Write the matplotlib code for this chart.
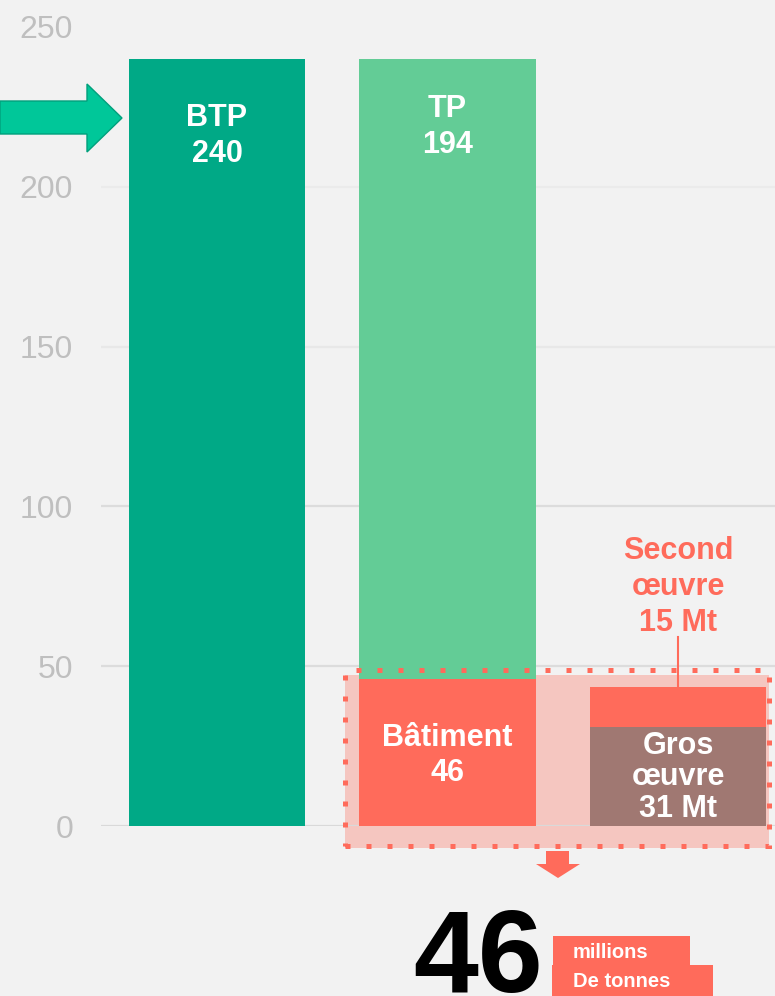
import matplotlib
matplotlib.use("Agg")
import matplotlib.pyplot as plt
from matplotlib.patches import Rectangle, Polygon

plt.rcParams['font.family'] = ['Liberation Sans', 'DejaVu Sans']

# ---------------- data ----------------
categories = ["BTP", "TP + Bâtiment", "Bâtiment"]
btp_total = 240
batiment = 46
tp = 194
gros_oeuvre = 31
second_oeuvre = 12.5          # height as drawn in the picture (label says 15 Mt)
second_label = "Second\nœuvre\n15 Mt"
gros_label = "Gros\nœuvre\n31 Mt"
yticks = [0, 50, 100, 150, 200, 250]
total_batiment = 46

# ---------------- style ----------------
BG = "#F2F2F2"
C_BTP = "#00A986"
C_TP = "#63CC96"
C_CORAL = "#FF6B5B"
C_BROWN = "#A07872"
C_PINK = "#F5C6C0"
C_TICK = "#BFBFBF"

W, H = 775, 996
fig = plt.figure(figsize=(W / 100, H / 100), dpi=100, facecolor=BG)

def fx(px):
    return px / W

def fy(py):
    return 1 - py / H

ax = fig.add_axes([fx(101), fy(826), fx(775) - fx(101), fy(27) - fy(826)])
ax.set_facecolor("none")
ax.set_xlim(-0.503, 2.421)
ax.set_ylim(0, 250)
for s in ax.spines.values():
    s.set_visible(False)
ax.set_xticks([])
ax.set_yticks(yticks)
ax.set_yticklabels([str(v) for v in yticks], fontsize=23, color=C_TICK)
ax.tick_params(axis="y", length=0, pad=20)

grid_cols = {0: "#D9D9D9", 50: "#DCDCDC", 100: "#DCDCDC", 150: "#E8E8E8", 200: "#EBEBEB"}
for v, c in grid_cols.items():
    ax.axhline(v, color=c, lw=1.6, zorder=1)

bw = 0.764
x = [0, 1, 2]

# pink highlight zone (behind bars)
ax.add_patch(Rectangle((0.555, -6.9), 2.395 - 0.555, 47.2 + 6.9, facecolor=C_PINK,
                       edgecolor="none", zorder=0.5, clip_on=False))

# bars
ax.bar(x[0], btp_total, width=bw, color=C_BTP, zorder=2)
ax.bar(x[1], batiment, width=bw, color=C_CORAL, zorder=2)
ax.bar(x[1], tp, bottom=batiment, width=bw, color=C_TP, zorder=2)
ax.bar(x[2], gros_oeuvre, width=bw, color=C_BROWN, zorder=2)
ax.bar(x[2], second_oeuvre, bottom=gros_oeuvre, width=bw, color=C_CORAL, zorder=2)

# dotted border
ax.add_patch(Rectangle((0.555, -6.3), 2.395 - 0.555, 48.8 + 6.3, fill=False,
                       edgecolor=C_CORAL, lw=3.6, linestyle=(0, (1, 3.2)),
                       zorder=3, clip_on=False))

# labels in bars
lab_kw = dict(ha="center", va="center", color="white", fontsize=22,
              fontweight="bold", zorder=4)
ax.text(x[0], 216.0, f"BTP\n{btp_total}", linespacing=1.27, **lab_kw)
ax.text(x[1], 218.7, f"TP\n{tp}", linespacing=1.27, **lab_kw)
ax.text(x[1], 22.2, f"Bâtiment\n{batiment}", linespacing=1.22, **lab_kw)
ax.text(x[2], 15.2, gros_label, linespacing=1.07, **lab_kw)
ax.text(x[2], 74.8, second_label, ha="center", va="center", color=C_CORAL,
        fontsize=22, fontweight="bold", linespacing=1.25, zorder=4)
ax.plot([x[2], x[2]], [59.1, gros_oeuvre + second_oeuvre], color=C_CORAL, lw=1.5, zorder=4)

# left teal arrow
teal_pts = [(0, 101), (87, 101), (87, 84), (122, 118), (87, 152), (87, 134), (0, 134)]
fig.patches.append(Polygon([(fx(a), fy(b)) for a, b in teal_pts], closed=True,
                           facecolor="#00C799", edgecolor="#00A07C", lw=1,
                           transform=fig.transFigure))

# down arrow
down_pts = [(546, 851), (569, 851), (569, 864), (580, 864), (558, 878), (536, 864), (546, 864)]
fig.patches.append(Polygon([(fx(a), fy(b)) for a, b in down_pts], closed=True,
                           facecolor=C_CORAL, edgecolor="none",
                           transform=fig.transFigure))

# big number + unit boxes
fig.text(fx(413), fy(992), f"{total_batiment}", fontsize=84, fontweight="bold",
         color="black", ha="left", va="baseline")
fig.patches.append(Rectangle((fx(553), fy(965)), fx(690) - fx(553), fy(936) - fy(965),
                             facecolor=C_CORAL, edgecolor="none", transform=fig.transFigure))
fig.patches.append(Rectangle((fx(552), fy(996)), fx(713) - fx(552), fy(965) - fy(996),
                             facecolor=C_CORAL, edgecolor="none", transform=fig.transFigure))
fig.text(fx(573), fy(952), "millions", fontsize=14.5, fontweight="bold", color="white",
         ha="left", va="center")
fig.text(fx(573), fy(981), "De tonnes", fontsize=14.5, fontweight="bold", color="white",
         ha="left", va="center")

fig.savefig("out.png", dpi=100, facecolor=BG)
